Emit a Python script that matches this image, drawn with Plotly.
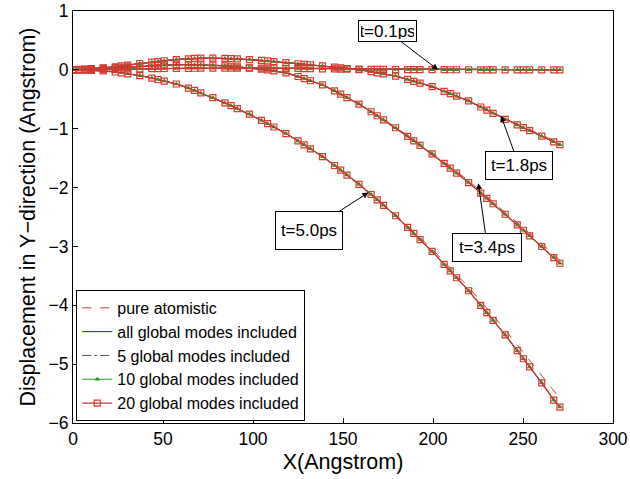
import plotly.graph_objects as go

# Atom sample positions along X (Angstrom)
X_ATOMS = [
    0.0, 3.3, 6.7, 10.2, 16.8,
    23.5, 26.9, 30.4, 37.1,
    43.8, 47.2, 50.7, 57.4,
    64.1, 67.5, 71.0, 77.7,
    84.4, 87.8, 91.3, 98.0,
    104.7, 108.1, 111.6, 118.3,
    125.0, 128.4, 131.9, 138.6,
    145.3, 148.7, 152.2, 158.9,
    165.6, 169.0, 172.5, 179.2,
    185.9, 189.3, 192.8, 199.5,
    206.2, 209.6, 213.1, 219.8,
    226.5, 229.9, 233.4, 240.1,
    246.8, 250.2, 253.7, 260.4,
    267.1, 270.5,
]

# Multiscale (global-mode) displacement at each time
Y_T01 = [
    0.0, 0.002, 0.003, 0.005, 0.008,
    0.012, 0.013, 0.015, 0.019,
    0.021, 0.022, 0.023, 0.024,
    0.026, 0.027, 0.028, 0.029,
    0.03, 0.03, 0.03, 0.03,
    0.029, 0.028, 0.027, 0.026,
    0.024, 0.022, 0.02, 0.018,
    0.015, 0.014, 0.013, 0.011,
    0.009, 0.008, 0.007, 0.006,
    0.005, 0.004, 0.004, 0.003,
    0.003, 0.002, 0.002, 0.002,
    0.001, 0.001, 0.001, 0.0,
    0.0, 0.0, 0.0, 0.0,
    0.0, 0.0,
]
Y_T18 = [
    0.0, 0.007, 0.013, 0.02, 0.034,
    0.052, 0.068, 0.082, 0.108,
    0.13, 0.14, 0.155, 0.175,
    0.188, 0.195, 0.198, 0.198,
    0.195, 0.19, 0.185, 0.174,
    0.16, 0.151, 0.141, 0.122,
    0.104, 0.094, 0.084, 0.066,
    0.045, 0.034, 0.023, 0.003,
    -0.031, -0.05, -0.069, -0.106,
    -0.163, -0.194, -0.225, -0.286,
    -0.364, -0.405, -0.447, -0.528,
    -0.631, -0.683, -0.738, -0.841,
    -0.935, -0.983, -1.032, -1.126,
    -1.223, -1.272,
]
Y_T34 = [
    0.0, 0.005, 0.01, 0.015, 0.025,
    0.037, 0.044, 0.051, 0.064,
    0.074, 0.077, 0.081, 0.087,
    0.09, 0.088, 0.085, 0.081,
    0.069, 0.061, 0.052, 0.035,
    0.011, -0.002, -0.018, -0.052,
    -0.113, -0.148, -0.185, -0.255,
    -0.357, -0.414, -0.471, -0.582,
    -0.712, -0.78, -0.85, -0.984,
    -1.13, -1.205, -1.282, -1.429,
    -1.589, -1.67, -1.754, -1.915,
    -2.094, -2.182, -2.275, -2.453,
    -2.634, -2.725, -2.82, -3.001,
    -3.19, -3.286,
]
Y_T50 = [
    0.0, -0.003, -0.007, -0.01, -0.017,
    -0.036, -0.051, -0.067, -0.097,
    -0.139, -0.164, -0.19, -0.24,
    -0.309, -0.35, -0.392, -0.472,
    -0.562, -0.609, -0.658, -0.752,
    -0.858, -0.914, -0.971, -1.082,
    -1.208, -1.274, -1.342, -1.473,
    -1.625, -1.704, -1.787, -1.944,
    -2.118, -2.209, -2.301, -2.479,
    -2.677, -2.779, -2.884, -3.085,
    -3.305, -3.417, -3.532, -3.753,
    -4.0, -4.126, -4.256, -4.504,
    -4.772, -4.908, -5.048, -5.318,
    -5.61, -5.73,
]

# Pure atomistic reference (coarser sampling)
X_PA = [0, 20, 40, 60, 80, 100, 120, 140, 160, 180, 200, 220, 240, 260, 271]
PA_T01 = [0, 0.01, 0.02, 0.025, 0.03, 0.03, 0.025, 0.018, 0.009, 0.005, 0.003, 0.001, 0.0, 0.0, 0.0]
PA_T18 = [0, 0.04, 0.12, 0.185, 0.198, 0.174, 0.12, 0.064, 0.005, -0.105, -0.285, -0.52, -0.83, -1.10, -1.26]
PA_T34 = [0, 0.03, 0.07, 0.09, 0.08, 0.03, -0.06, -0.27, -0.59, -0.99, -1.42, -1.89, -2.42, -2.94, -3.25]
PA_T50 = [0, -0.02, -0.11, -0.26, -0.5, -0.78, -1.11, -1.5, -1.96, -2.48, -3.06, -3.70, -4.41, -5.18, -5.60]

MODES_Y = [Y_T01, Y_T18, Y_T34, Y_T50]
PA_Y = [PA_T01, PA_T18, PA_T34, PA_T50]

LEGEND_NAMES = [
    "pure atomistic",
    "all global modes included",
    "5 global modes included",
    "10 global modes included",
    "20 global modes included",
]

# Annotations: label, head x, head y
ANN_LABELS = ["t=0.1ps", "t=1.8ps", "t=3.4ps", "t=5.0ps"]
ANN_X = [202.8, 237.8, 225.2, 164.1]
ANN_Y = [0.0, -0.78, -1.925, -2.085]
ANN_AX = [-51, 18, 9, -59]
ANN_AY = [-39, 50, 64, 38]
ANN_W = [53, 62, 64, 62]
ANN_H = [16, 23, 23, 33]

FONT = "Liberation Sans, Arial, Helvetica, sans-serif"

fig = go.Figure()

# pure atomistic
for i, ys in enumerate(PA_Y):
    fig.add_trace(go.Scatter(
        x=X_PA, y=ys, mode="lines", name=LEGEND_NAMES[0], legendgroup="pa",
        showlegend=(i == 0), line=dict(color="#c8413a", width=1, dash="dash")))

# all global modes
for i, ys in enumerate(MODES_Y):
    fig.add_trace(go.Scatter(
        x=X_ATOMS, y=ys, mode="lines", name=LEGEND_NAMES[1], legendgroup="all",
        showlegend=(i == 0), line=dict(color="#1c1ca8", width=1)))

# 5 global modes
for i, ys in enumerate(MODES_Y):
    fig.add_trace(go.Scatter(
        x=X_ATOMS, y=ys, mode="lines", name=LEGEND_NAMES[2], legendgroup="m5",
        showlegend=(i == 0), line=dict(color="#555555", width=1, dash="dashdot")))

# 10 global modes
for i, ys in enumerate(MODES_Y):
    fig.add_trace(go.Scatter(
        x=X_ATOMS, y=ys, mode="lines+markers", name=LEGEND_NAMES[3], legendgroup="m10",
        showlegend=(i == 0), line=dict(color="#1f9e1f", width=1),
        marker=dict(symbol="triangle-up", size=5, color="#1f9e1f")))

# 20 global modes
for i, ys in enumerate(MODES_Y):
    fig.add_trace(go.Scatter(
        x=X_ATOMS, y=ys, mode="lines+markers", name=LEGEND_NAMES[4], legendgroup="m20",
        showlegend=(i == 0), line=dict(color="#c83a30", width=1.3),
        marker=dict(symbol="square-open", size=6, color="#d93a32",
                    line=dict(width=1.2, color="#d93a32"))))

for lab, hx, hy, ax, ay, w, h in zip(ANN_LABELS, ANN_X, ANN_Y, ANN_AX, ANN_AY, ANN_W, ANN_H):
    fig.add_annotation(
        x=hx, y=hy, xref="x", yref="y", text=lab, showarrow=True,
        ax=ax, ay=ay, axref="pixel", ayref="pixel", width=w, height=h,
        arrowhead=2, arrowsize=1.2, arrowwidth=1, arrowcolor="black",
        font=dict(family=FONT, size=17, color="black"),
        bgcolor="white", bordercolor="black", borderwidth=1, borderpad=2)

axis_common = dict(
    showline=True, mirror=True, linecolor="black", linewidth=1,
    ticks="inside", ticklen=5, tickcolor="black", showgrid=False, zeroline=False,
    automargin=False,
    tickfont=dict(family=FONT, size=17.5, color="black"),
)

fig.update_xaxes(range=[0, 300], dtick=50, tick0=0,
                 title=dict(text="X(Angstrom)", font=dict(family=FONT, size=21.5, color="black"), standoff=5),
                 **axis_common)
fig.update_yaxes(range=[-6, 1], dtick=1, tick0=0,
                 title=dict(text="Displacement in Y\u2212direction (Angstrom)",
                            font=dict(family=FONT, size=21.5, color="black"), standoff=7),
                 **axis_common)

fig.update_layout(
    template="none",
    width=630, height=479,
    margin=dict(l=73, r=17, t=11, b=56),
    paper_bgcolor="white", plot_bgcolor="white",
    font=dict(family=FONT, size=17, color="black"),
    legend=dict(x=0.006, y=0.005, xanchor="left", yanchor="bottom",
                bgcolor="white", bordercolor="black", borderwidth=1,
                font=dict(family=FONT, size=16, color="black"),
                tracegroupgap=0, itemwidth=30),
)

fig.write_html("out.html")
